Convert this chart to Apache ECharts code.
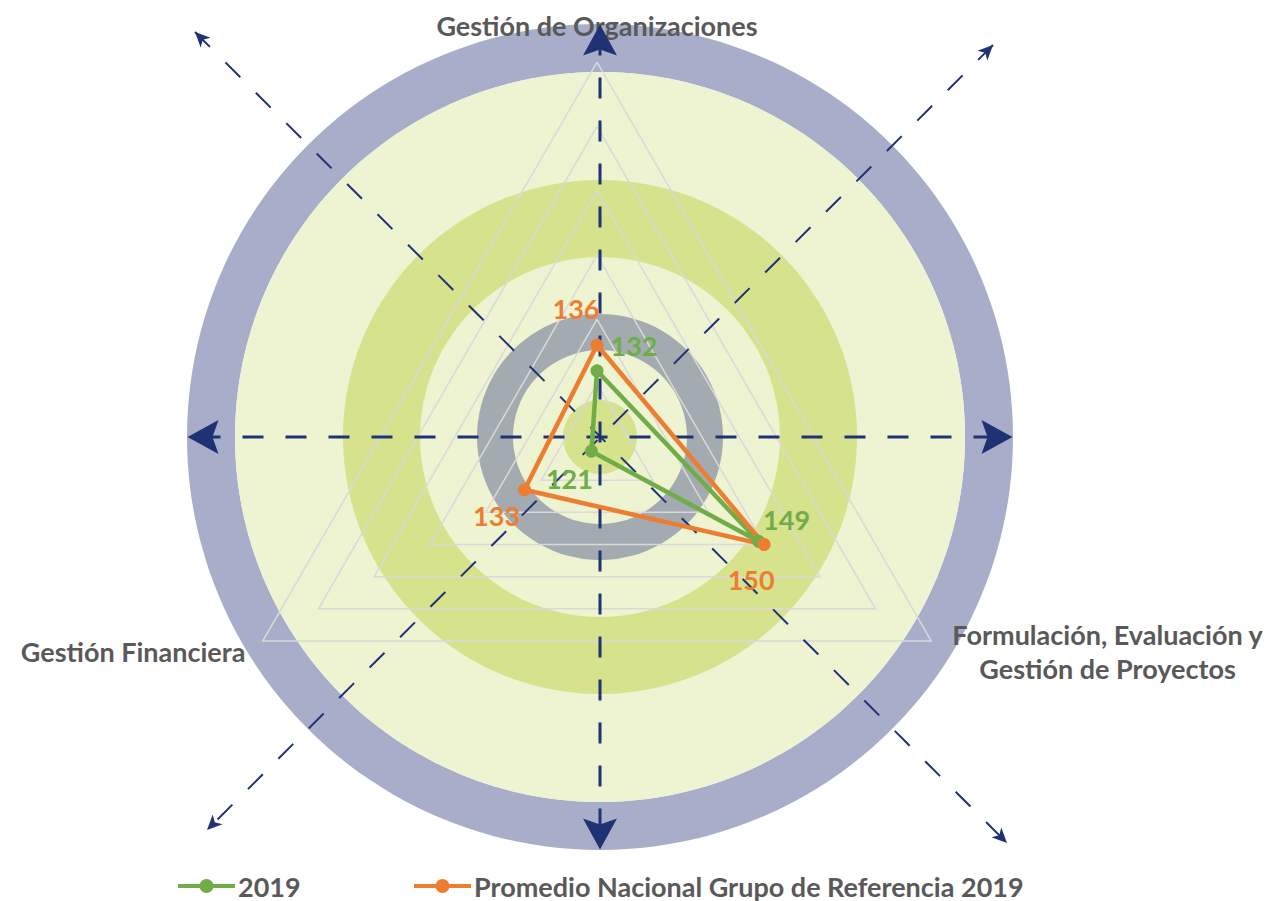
<!DOCTYPE html>
<html>
<head>
<meta charset="utf-8">
<title>Radar</title>
<script src="https://cdn.jsdelivr.net/npm/echarts@6/dist/echarts.min.js"></script>
<style>
  html, body { margin: 0; padding: 0; background: #fff; }
  #main { width: 1268px; height: 901px; }
</style>
</head>
<body>
<div id="main"></div>
<script>
// data
const indicatorNames = [
  'Gestión de Organizaciones',
  'Gestión Financiera',
  'Formulación, Evaluación y\nGestión de Proyectos'
];
const axisMin = 120;
const axisMax = 180;
const seriesNames = ['2019', 'Promedio Nacional Grupo de Referencia 2019'];
const values2019 = [132, 121, 149];
const valuesPromedio = [136, 133, 150];

const seriesValues = [values2019, valuesPromedio];
const seriesColors = ['#70AD47', '#ED7D31'];
// label nudges (dx, dy) per vertex, same order as indicators
const labelShift = [
  [[37, -25], [-22, 27], [28, -22]],
  [[-21, -37], [-28, 26], [-13, 35]]
];

const FONT = 'Lato';
const FONT_SIZE = 27;
const TEXT_GREY = '#595959';
const NAVY = '#1F3274';

// background decoration (centre of rings and arrows)
const cx = 600, cy = 437;
const rings = [
  { r: 413, r0: 365, fill: '#A8AEC9' },
  { r: 365, r0: 0, fill: '#EEF3D2' },
  { r: 257, r0: 180, fill: '#D7E28C' },
  { r: 123, r0: 87, fill: '#A3AAB0' },
  { r: 37, r0: 0, fill: '#D7E28C' }
];

function arrowHead(tip, angle, len, half, notch) {
  const ux = Math.cos(angle), uy = Math.sin(angle);
  const bx = tip[0] - ux * len, by = tip[1] - uy * len;
  const px = -uy, py = ux;
  return [
    tip,
    [bx + px * half, by + py * half],
    [tip[0] - ux * (len - notch), tip[1] - uy * (len - notch)],
    [bx - px * half, by - py * half]
  ];
}

const graphics = [];
rings.forEach((g) => {
  graphics.push({
    type: g.r0 ? 'ring' : 'circle',
    z: 0,
    shape: g.r0 ? { cx, cy, r: g.r, r0: g.r0 } : { cx, cy, r: g.r },
    style: { fill: g.fill },
    silent: true
  });
});

// main dashed axes with big arrow heads
const bigReach = 412.5;
[[1, 0], [-1, 0], [0, 1], [0, -1]].forEach(([dx, dy]) => {
  const tip = [cx + dx * bigReach, cy + dy * bigReach];
  graphics.push({
    type: 'polygon', z: 1, silent: true,
    shape: { points: arrowHead(tip, Math.atan2(dy, dx), 31, 17, 6) },
    style: { fill: NAVY }
  });
});
graphics.push({
  type: 'line', z: 1, silent: true,
  shape: { x1: cx - bigReach + 12, y1: cy, x2: cx + bigReach - 12, y2: cy },
  style: { stroke: NAVY, lineWidth: 3, lineDash: [21, 22] }
});
graphics.push({
  type: 'line', z: 1, silent: true,
  shape: { x1: cx, y1: cy - bigReach + 10, x2: cx, y2: cy + bigReach - 10 },
  style: { stroke: NAVY, lineWidth: 3, lineDash: [21, 22] }
});

// diagonal thin dashed arrows
[[[195, 32], [1007, 843]], [[993, 45], [207, 830]]].forEach(([a, b]) => {
  graphics.push({
    type: 'line', z: 1, silent: true,
    shape: { x1: a[0], y1: a[1], x2: b[0], y2: b[1] },
    style: { stroke: NAVY, lineWidth: 2, lineDash: [21, 22] }
  });
  graphics.push({
    type: 'polygon', z: 1, silent: true,
    shape: { points: arrowHead(a, Math.atan2(a[1] - b[1], a[0] - b[0]), 15, 7, 4) },
    style: { fill: NAVY }
  });
  graphics.push({
    type: 'polygon', z: 1, silent: true,
    shape: { points: arrowHead(b, Math.atan2(b[1] - a[1], b[0] - a[0]), 15, 7, 4) },
    style: { fill: NAVY }
  });
});

const legendIcon = 'path://M0,5H57V9H0Z M21.5,7a7,7 0 1,1 14,0a7,7 0 1,1 -14,0Z';
const legendText = {
  fontFamily: FONT, fontWeight: 'bold', fontSize: FONT_SIZE, lineHeight: 30, color: TEXT_GREY,
  padding: [0, 0, 0, -2]
};

const chart = echarts.init(document.getElementById('main'), null, { renderer: 'svg' });
chart.setOption({
  backgroundColor: '#fff',
  animation: false,
  graphic: { elements: graphics },
  legend: [
    {
      left: 178, top: 871, padding: 0, itemWidth: 57, itemHeight: 14, selectedMode: false,
      textStyle: legendText,
      data: [{ name: seriesNames[0], icon: legendIcon, itemStyle: { color: seriesColors[0], borderWidth: 0 } }]
    },
    {
      left: 414, top: 871, padding: 0, itemWidth: 57, itemHeight: 14, selectedMode: false,
      textStyle: legendText,
      data: [{ name: seriesNames[1], icon: legendIcon, itemStyle: { color: seriesColors[1], borderWidth: 0 } }]
    }
  ],
  radar: {
    center: [597, 448],
    radius: 386,
    startAngle: 90,
    shape: 'polygon',
    splitNumber: 6,
    nameGap: 20,
    indicator: indicatorNames.map((name) => ({ name, min: axisMin, max: axisMax })),
    axisName: {
      color: TEXT_GREY, fontFamily: FONT, fontWeight: 'bold', fontSize: FONT_SIZE, lineHeight: 34,
      formatter: (name) => (name.indexOf('\n') < 0 ? name
        : name.split('\n').map((l) => '{c|' + l + '}').join('\n')),
      rich: {
        c: {
          width: 318, align: 'center', color: TEXT_GREY, fontFamily: FONT,
          fontWeight: 'bold', fontSize: FONT_SIZE, lineHeight: 34
        }
      }
    },
    splitLine: { lineStyle: { color: '#D9D9D9', width: 1.5 } },
    splitArea: { show: false },
    axisLine: { show: false },
    axisTick: { show: false },
    axisLabel: { show: false }
  },
  series: seriesNames.map((name, i) => ({
    type: 'radar',
    name,
    symbol: 'circle',
    symbolSize: 13,
    lineStyle: { color: seriesColors[i], width: 4.5 },
    itemStyle: { color: seriesColors[i] },
    label: {
      show: true,
      position: 'inside',
      color: seriesColors[i],
      fontFamily: FONT,
      fontWeight: 'bold',
      fontSize: FONT_SIZE
    },
    labelLayout: (p) => {
      const k = seriesValues[p.seriesIndex].indexOf(Number(p.text));
      const s = labelShift[p.seriesIndex][k] || [0, 0];
      return { dx: s[0], dy: s[1] };
    },
    data: [{ name, value: seriesValues[i] }]
  }))
});
</script>
</body>
</html>
